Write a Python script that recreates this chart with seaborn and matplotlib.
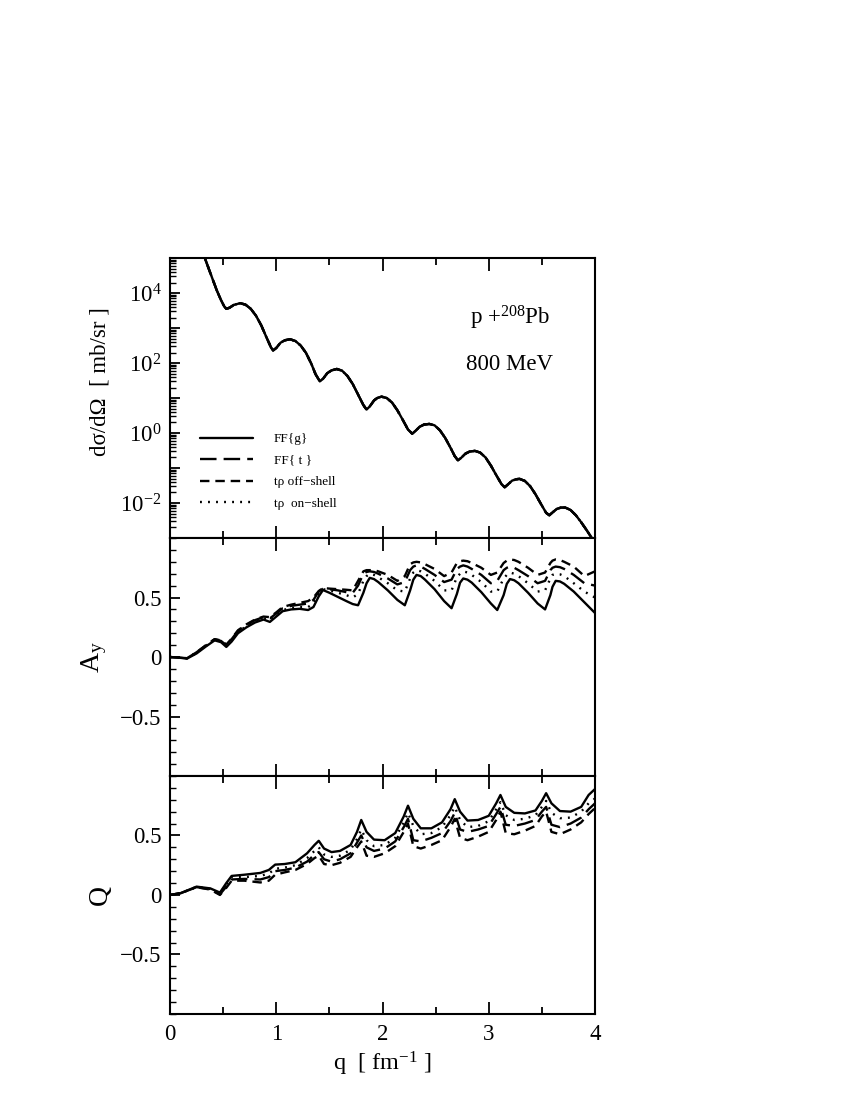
import numpy as np
import matplotlib
matplotlib.use("Agg")
import matplotlib.pyplot as plt
import seaborn as sns
from matplotlib.ticker import MultipleLocator, FixedLocator, LogLocator, NullFormatter, FuncFormatter

# ======== DATA ========
labels = ["FF{g}", "FF{ t }", "tρ off−shell", "tρ  on−shell"]
styles = ["-", (0, (7, 3)), (0, (4, 2.5)), (0, (0.8, 2.6))]

# cross section, log10(dsigma/dOmega) ; all four models overlap
q_xs = [0.25, 0.31, 0.37, 0.44, 0.48, 0.51, 0.53, 0.56, 0.60, 0.66, 0.71, 0.76, 0.81, 0.86,
        0.91, 0.95, 0.97, 1.00, 1.04, 1.08, 1.13, 1.18, 1.23, 1.28, 1.33, 1.37, 1.41, 1.44,
        1.48, 1.52, 1.57, 1.62, 1.67, 1.72, 1.77, 1.82, 1.85, 1.88, 1.92, 1.95, 1.99, 2.04,
        2.09, 2.14, 2.19, 2.24, 2.28, 2.31, 2.35, 2.39, 2.44, 2.49, 2.54, 2.59, 2.64, 2.68,
        2.71, 2.74, 2.78, 2.82, 2.87, 2.92, 2.97, 3.02, 3.07, 3.12, 3.15, 3.18, 3.22, 3.26,
        3.29, 3.34, 3.39, 3.44, 3.49, 3.54, 3.57, 3.60, 3.64, 3.68, 3.72, 3.77, 3.82, 3.87,
        3.92, 3.97, 4.00]
xs_log10 = [5.62, 5.15, 4.65, 4.08, 3.80, 3.62, 3.55, 3.58, 3.66, 3.71, 3.67, 3.55, 3.35, 3.07,
            2.72, 2.45, 2.36, 2.43, 2.58, 2.65, 2.68, 2.63, 2.50, 2.29, 1.98, 1.68, 1.48, 1.55,
            1.71, 1.79, 1.83, 1.78, 1.63, 1.40, 1.10, 0.80, 0.67, 0.76, 0.93, 1.00, 1.04, 1.00,
            0.87, 0.65, 0.38, 0.10, -0.02, 0.06, 0.18, 0.24, 0.26, 0.22, 0.08, -0.14, -0.42, -0.66,
            -0.78, -0.71, -0.59, -0.53, -0.51, -0.56, -0.70, -0.93, -1.20, -1.46, -1.55, -1.47, -1.36, -1.32,
            -1.31, -1.37, -1.52, -1.75, -2.02, -2.28, -2.35, -2.27, -2.17, -2.13, -2.13, -2.20, -2.35, -2.55,
            -2.77, -3.00, -3.15]

# analysing power A_y
q_ay = [0, 0.08, 0.16, 0.25, 0.34, 0.42, 0.48, 0.53, 0.58, 0.64, 0.72, 0.80, 0.88, 0.94,
        1.00, 1.06, 1.14, 1.22, 1.30, 1.35, 1.40, 1.44, 1.50, 1.58, 1.66, 1.72, 1.77, 1.82,
        1.85, 1.88, 1.92, 1.96, 2.05, 2.14, 2.21, 2.26, 2.29, 2.32, 2.36, 2.40, 2.49, 2.58,
        2.65, 2.70, 2.73, 2.76, 2.80, 2.84, 2.93, 3.02, 3.08, 3.14, 3.17, 3.20, 3.24, 3.28,
        3.37, 3.46, 3.53, 3.58, 3.60, 3.63, 3.67, 3.71, 3.80, 3.90, 4.00]
ay_ffg = [0, -0.005, -0.013, 0.03, 0.09, 0.14, 0.125, 0.085, 0.13, 0.20, 0.25, 0.29, 0.315, 0.295,
          0.34, 0.385, 0.40, 0.405, 0.395, 0.42, 0.51, 0.563, 0.54, 0.505, 0.47, 0.445, 0.435, 0.54,
          0.62, 0.665, 0.655, 0.63, 0.56, 0.48, 0.435, 0.56, 0.65, 0.69, 0.68, 0.65, 0.57, 0.47,
          0.41, 0.53, 0.625, 0.66, 0.65, 0.625, 0.545, 0.45, 0.395, 0.52, 0.615, 0.655, 0.645, 0.62,
          0.54, 0.45, 0.40, 0.52, 0.59, 0.64, 0.635, 0.615, 0.55, 0.46, 0.37]
ay_fft = [0, -0.004, -0.010, 0.04, 0.10, 0.15, 0.135, 0.10, 0.15, 0.22, 0.27, 0.31, 0.335, 0.325,
          0.365, 0.41, 0.43, 0.44, 0.45, 0.48, 0.55, 0.575, 0.57, 0.56, 0.545, 0.54, 0.60, 0.70,
          0.715, 0.72, 0.715, 0.70, 0.66, 0.61, 0.63, 0.73, 0.76, 0.77, 0.76, 0.74, 0.69, 0.63,
          0.65, 0.74, 0.76, 0.77, 0.76, 0.74, 0.69, 0.62, 0.64, 0.73, 0.75, 0.76, 0.75, 0.73,
          0.68, 0.62, 0.64, 0.73, 0.75, 0.76, 0.755, 0.74, 0.69, 0.62, 0.60]
ay_off = [0, -0.004, -0.010, 0.04, 0.10, 0.15, 0.14, 0.105, 0.155, 0.225, 0.275, 0.315, 0.34, 0.335,
          0.375, 0.42, 0.44, 0.455, 0.47, 0.50, 0.555, 0.58, 0.575, 0.57, 0.565, 0.56, 0.64, 0.72,
          0.73, 0.73, 0.73, 0.72, 0.69, 0.64, 0.68, 0.78, 0.795, 0.80, 0.795, 0.78, 0.74, 0.68,
          0.71, 0.79, 0.805, 0.81, 0.805, 0.79, 0.75, 0.69, 0.71, 0.79, 0.81, 0.82, 0.815, 0.80,
          0.75, 0.69, 0.71, 0.79, 0.81, 0.82, 0.815, 0.80, 0.76, 0.68, 0.72]
ay_on = [0, -0.005, -0.012, 0.035, 0.095, 0.145, 0.13, 0.09, 0.14, 0.21, 0.26, 0.30, 0.325, 0.31,
         0.35, 0.395, 0.41, 0.42, 0.42, 0.45, 0.53, 0.57, 0.56, 0.54, 0.52, 0.50, 0.53, 0.64,
         0.68, 0.70, 0.69, 0.67, 0.62, 0.56, 0.55, 0.66, 0.71, 0.73, 0.72, 0.70, 0.64, 0.56,
         0.56, 0.67, 0.70, 0.72, 0.71, 0.69, 0.63, 0.55, 0.55, 0.66, 0.69, 0.71, 0.70, 0.68,
         0.62, 0.55, 0.56, 0.66, 0.69, 0.70, 0.695, 0.68, 0.62, 0.55, 0.50]

# spin rotation Q
q_q = [0, 0.10, 0.25, 0.38, 0.47, 0.53, 0.58, 0.70, 0.85, 0.93, 0.99, 1.08, 1.18, 1.29, 1.36,
       1.40, 1.45, 1.52, 1.60, 1.70, 1.76, 1.80, 1.85, 1.92, 2.02, 2.12, 2.20, 2.24, 2.29, 2.36,
       2.46, 2.56, 2.64, 2.68, 2.73, 2.80, 2.90, 3.00, 3.07, 3.11, 3.16, 3.24, 3.34, 3.44, 3.50,
       3.54, 3.59, 3.67, 3.77, 3.87, 3.94, 4.00]
qq_ffg = [0, 0.015, 0.07, 0.055, 0.02, 0.10, 0.16, 0.17, 0.185, 0.21, 0.255, 0.26, 0.275, 0.35, 0.42,
          0.455, 0.39, 0.36, 0.37, 0.42, 0.53, 0.63, 0.53, 0.465, 0.46, 0.52, 0.66, 0.75, 0.64, 0.56,
          0.56, 0.61, 0.72, 0.805, 0.70, 0.625, 0.63, 0.665, 0.77, 0.84, 0.74, 0.69, 0.685, 0.71, 0.79,
          0.855, 0.77, 0.705, 0.70, 0.74, 0.84, 0.89]
qq_fft = [0, 0.015, 0.066, 0.048, 0.005, 0.07, 0.13, 0.135, 0.13, 0.15, 0.20, 0.21, 0.23, 0.28, 0.34,
          0.36, 0.30, 0.28, 0.30, 0.35, 0.44, 0.50, 0.40, 0.37, 0.39, 0.45, 0.57, 0.64, 0.46, 0.45,
          0.48, 0.52, 0.62, 0.69, 0.55, 0.53, 0.55, 0.58, 0.68, 0.74, 0.59, 0.58, 0.60, 0.63, 0.70,
          0.74, 0.59, 0.57, 0.60, 0.65, 0.72, 0.77]
qq_off = [0, 0.015, 0.065, 0.045, 0.0, 0.06, 0.12, 0.12, 0.105, 0.12, 0.17, 0.19, 0.21, 0.26, 0.31,
          0.33, 0.26, 0.25, 0.27, 0.32, 0.40, 0.45, 0.33, 0.32, 0.35, 0.41, 0.53, 0.60, 0.41, 0.39,
          0.42, 0.46, 0.57, 0.64, 0.48, 0.46, 0.49, 0.53, 0.63, 0.70, 0.52, 0.51, 0.54, 0.58, 0.66,
          0.70, 0.53, 0.51, 0.55, 0.61, 0.68, 0.73]
qq_on = [0, 0.015, 0.068, 0.05, 0.01, 0.09, 0.15, 0.15, 0.16, 0.18, 0.22, 0.23, 0.25, 0.31, 0.37,
         0.40, 0.34, 0.32, 0.33, 0.38, 0.47, 0.55, 0.46, 0.41, 0.42, 0.48, 0.61, 0.69, 0.58, 0.51,
         0.52, 0.57, 0.67, 0.74, 0.63, 0.57, 0.58, 0.62, 0.72, 0.78, 0.67, 0.63, 0.64, 0.67, 0.74,
         0.79, 0.69, 0.645, 0.65, 0.70, 0.77, 0.81]

# ======== STYLE ========
sns.set_theme(style="ticks")
plt.rcParams["font.family"] = ["Liberation Serif", "DejaVu Serif"]
plt.rcParams["mathtext.fontset"] = "custom"
plt.rcParams["mathtext.rm"] = "Liberation Serif"
plt.rcParams["mathtext.it"] = "Liberation Serif:italic"
plt.rcParams["mathtext.default"] = "regular"
plt.rcParams["axes.linewidth"] = 1.5
for key in ["text.color", "axes.labelcolor", "axes.edgecolor", "xtick.color", "ytick.color"]:
    plt.rcParams[key] = "black"

fig = plt.figure(figsize=(8.5, 11), dpi=100)
ax1 = fig.add_axes([0.2, 0.5109, 0.5, 0.2545])
ax2 = fig.add_axes([0.2, 0.2945, 0.5, 0.2164])
ax3 = fig.add_axes([0.2, 0.0782, 0.5, 0.2164])

xs = 10 ** np.array(xs_log10)
for lab, ls in zip(labels, styles):
    sns.lineplot(x=q_xs, y=xs, ax=ax1, color="black", linestyle=ls, linewidth=1.7, label=lab)

for vals, ls in zip([ay_ffg, ay_fft, ay_off, ay_on], styles):
    sns.lineplot(x=q_ay, y=vals, ax=ax2, color="black", linestyle=ls, linewidth=1.7)

for vals, ls in zip([qq_ffg, qq_fft, qq_off, qq_on], styles):
    sns.lineplot(x=q_q, y=vals, ax=ax3, color="black", linestyle=ls, linewidth=1.7)

# ======== AXES ========
for ax in (ax1, ax2, ax3):
    ax.set_xlim(0, 4)
    ax.xaxis.set_major_locator(MultipleLocator(1))
    ax.xaxis.set_minor_locator(MultipleLocator(0.5))
    ax.tick_params(axis="x", which="both", direction="in", top=True, bottom=True,
                   labelsize=16.5, pad=7)
    ax.tick_params(axis="x", which="major", length=9, width=1.3)
    ax.tick_params(axis="x", which="minor", length=5, width=1.3)
    ax.tick_params(axis="y", which="both", direction="in", left=True, right=False,
                   labelsize=16.5, pad=6)
    ax.tick_params(axis="y", which="major", length=7, width=1.3)
    ax.tick_params(axis="y", which="minor", length=4, width=1.0)
    ax.set_xlabel("")

ax1.set_yscale("log")
ax1.set_ylim(1e-3, 1e5)
ax1.yaxis.set_major_locator(LogLocator(base=10, numticks=20))
ax1.yaxis.set_minor_locator(LogLocator(base=10, subs=np.arange(2, 10), numticks=20))
ax1.yaxis.set_minor_formatter(NullFormatter())
ax1.yaxis.set_major_formatter(FuncFormatter(
    lambda v, p: r"$10^{%d}$" % round(np.log10(v)) if round(np.log10(v)) % 2 == 0 else ""))

for ax in (ax2, ax3):
    ax.set_ylim(-1, 1)
    ax.yaxis.set_major_locator(FixedLocator([-0.5, 0, 0.5]))
    ax.yaxis.set_minor_locator(MultipleLocator(0.1))
    ax.yaxis.set_major_formatter(FuncFormatter(lambda v, p: "0" if v == 0 else f"{v:.1f}".replace("-", "−")))

ax1.tick_params(axis="x", labelbottom=False)
ax2.tick_params(axis="x", labelbottom=False)

ax1.set_ylabel("dσ/dΩ  [ mb/sr ]", fontsize=16.5)
ax1.yaxis.set_label_coords(-0.141, 0.56)
ax2.set_ylabel(r"A$_y$", fontsize=20)
ax2.yaxis.set_label_coords(-0.143, 0.5)
ax3.set_ylabel("Q", fontsize=20)
ax3.yaxis.set_label_coords(-0.135, 0.5)
ax3.set_xlabel(r"q  [ fm$^{-1}$ ]", fontsize=17.5)
ax3.xaxis.set_label_coords(0.5, -0.15)

ax1.text(3.2, 10 ** 3.3, r"p +$^{208}$Pb", fontsize=16.5, ha="center", va="center")
ax1.text(3.2, 10 ** 1.95, "800 MeV", fontsize=16.5, ha="center", va="center")

ax1.legend(loc="upper left", bbox_to_anchor=(0.07, 0.375), frameon=False, fontsize=9.5,
           handlelength=4.0, handletextpad=1.6, labelspacing=0.7, borderpad=0, borderaxespad=0)

fig.savefig("out.png", dpi=100)
